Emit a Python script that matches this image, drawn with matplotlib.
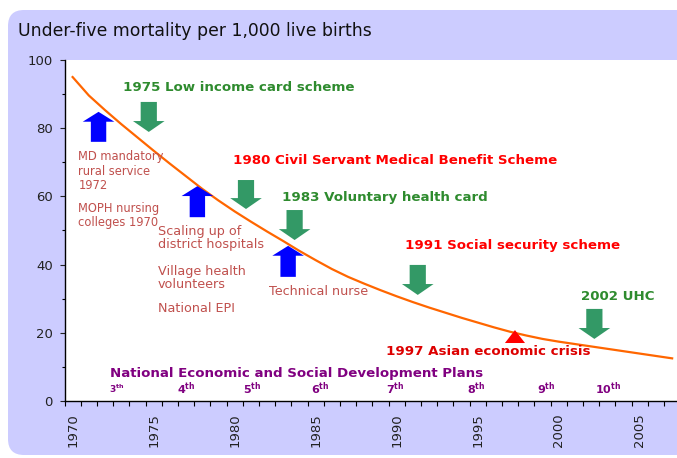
import numpy as np
import matplotlib
matplotlib.use("Agg")
import matplotlib.pyplot as plt
from matplotlib.patches import FancyBboxPatch, Polygon

# Under-five mortality per 1,000 live births
years = list(range(1970, 2008))
u5mr = [95.0, 89.6, 85.3, 81.2, 77.3, 73.4, 69.6, 65.9, 62.2, 58.8,
        55.6, 52.6, 49.7, 46.9, 44.0, 41.3, 38.7, 36.4, 34.4, 32.5,
        30.7, 29.0, 27.4, 25.9, 24.4, 23.0, 21.6, 20.3, 19.2, 18.2,
        17.4, 16.7, 16.0, 15.3, 14.6, 13.9, 13.2, 12.5]

# blue "up" arrows (supply side): year, start value, end value
up_years = [1971.6, 1977.7, 1983.3]
up_from = [76.0, 53.9, 36.4]
up_to = [84.8, 63.0, 45.5]

# green "down" arrows (financing schemes)
down_years = [1974.7, 1980.7, 1983.7, 1991.3, 2002.2]
down_from = [87.7, 64.8, 56.0, 39.9, 27.0]
down_to = [78.9, 56.3, 47.2, 31.1, 18.2]

crisis_year = 1997.3
crisis_value = 17.0

plan_labels = ["3", "4", "5", "6", "7", "8", "9", "10"]
plan_years = [1972.7, 1977.0, 1981.1, 1985.3, 1989.9, 1994.9, 1999.2, 2003.05]

fig = plt.figure(figsize=(6.77, 4.58), dpi=100)

# lavender rounded panel behind everything
panel = FancyBboxPatch((0.08, 0.03), 7.2, 4.45,
                       boxstyle="round,pad=0,rounding_size=0.16",
                       transform=fig.dpi_scale_trans,
                       facecolor="#CCCCFF", edgecolor="none", zorder=-5)
fig.patches.append(panel)

ax = fig.add_axes([0.0953, 0.1245, 0.9047, 0.7445])
ax.set_zorder(2)
ax.set_facecolor("white")
ax.set_xlim(1969.5, 2007.3)
ax.set_ylim(0, 100)

ax.plot(years, u5mr, color="#FF6600", lw=1.6, zorder=3)

for x, y0, y1 in zip(up_years, up_from, up_to):
    ax.arrow(x, y0, 0, y1 - y0, width=0.95, head_width=1.95,
             head_length=2.9, length_includes_head=True,
             color="#0000FF", lw=0, zorder=4)
for x, y0, y1 in zip(down_years, down_from, down_to):
    ax.arrow(x, y0, 0, y1 - y0, width=1.0, head_width=1.95,
             head_length=3.2, length_includes_head=True,
             color="#339966", lw=0, zorder=4)

ax.add_patch(Polygon([[crisis_year - 0.62, crisis_value],
                      [crisis_year + 0.62, crisis_value],
                      [crisis_year, crisis_value + 3.8]],
                     closed=True, color="#FF0000", lw=0, zorder=4))

green = "#2E8B2E"
red = "#FF0000"
brown = "#C0504D"
purple = "#800080"

ax.text(1973.1, 91.8, "1975 Low income card scheme", color=green,
        fontsize=9.6, fontweight="bold", va="center")
ax.text(1979.9, 70.4, "1980 Civil Servant Medical Benefit Scheme", color=red,
        fontsize=9.6, fontweight="bold", va="center")
ax.text(1982.95, 59.8, "1983 Voluntary health card", color=green,
        fontsize=9.6, fontweight="bold", va="center")
ax.text(1990.5, 45.7, "1991 Social security scheme", color=red,
        fontsize=9.6, fontweight="bold", va="center")
ax.text(2001.4, 30.5, "2002 UHC", color=green,
        fontsize=9.6, fontweight="bold", va="center")
ax.text(1989.35, 14.4, "1997 Asian economic crisis", color="#DD0000",
        fontsize=9.6, fontweight="bold", va="center")
ax.text(1972.3, 8.2, "National Economic and Social Development Plans",
        color=purple, fontsize=9.6, fontweight="bold", va="center")

for lab, x in zip(plan_labels, plan_years):
    size = 6.5 if lab == "3" else 8
    ax.text(x, 3.5, lab + r"$^{\mathbf{th}}$", color=purple, fontsize=size,
            fontweight="bold", ha="center", va="center")

ax.text(1970.35, 73.6, "MD mandatory\nrural service\n1972", color=brown,
        fontsize=8.3, va="top", linespacing=1.15)
ax.text(1970.35, 58.4, "MOPH nursing\ncolleges 1970", color=brown,
        fontsize=8.3, va="top", linespacing=1.15)
ax.text(1975.25, 51.6, "Scaling up of\ndistrict hospitals", color=brown,
        fontsize=9.2, va="top", linespacing=1.0)
ax.text(1975.25, 39.9, "Village health\nvolunteers", color=brown,
        fontsize=9.2, va="top", linespacing=1.0)
ax.text(1975.25, 29.0, "National EPI", color=brown,
        fontsize=9.2, va="top")
ax.text(1982.1, 34.0, "Technical nurse", color=brown,
        fontsize=9.2, va="top")

fig.text(18 / 677, 1 - 31 / 458, "Under-five mortality per 1,000 live births",
         fontsize=12.4, va="center", color="#111111")

# axes styling
for s in ["top", "right"]:
    ax.spines[s].set_visible(False)
ax.spines["left"].set_linewidth(1.0)
ax.spines["bottom"].set_linewidth(1.0)

ax.set_yticks(np.arange(0, 101, 20))
ax.set_yticks(np.arange(10, 100, 20), minor=True)
ax.tick_params(axis="y", which="major", length=3.5, width=0.8,
               labelsize=9.5, pad=5, colors="#222222")
ax.tick_params(axis="y", which="minor", length=2.2, width=0.8)

ax.set_xticks(np.arange(1970, 2006, 5))
ax.set_xticklabels([str(y) for y in range(1970, 2006, 5)], rotation=90)
ax.set_xticks(np.arange(1969.5, 2007.3, 1), minor=True)
ax.tick_params(axis="x", which="major", length=0, labelsize=9.5, pad=9,
               colors="#222222")
ax.tick_params(axis="x", which="minor", length=3.6, width=0.8)

fig.savefig("out.png", dpi=100)
